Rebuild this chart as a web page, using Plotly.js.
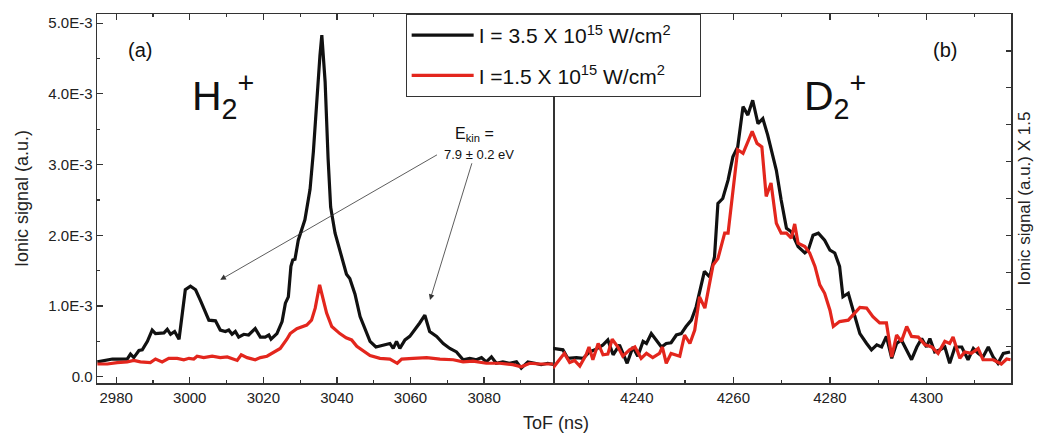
<!DOCTYPE html>
<html>
<head>
<meta charset="utf-8">
<script src="https://cdn.plot.ly/plotly-3.0.1.min.js"></script>
<style>html,body{margin:0;padding:0;background:#fff;}#chart{width:1038px;height:436px;}</style>
</head>
<body>
<div id="chart"></div>
<script>
// ---- Data (ToF in ns, signal in units of 1E-3 a.u.) ----
const h2TofBlack = [2974.9,2977,2979,2983,2983.9,2984.8,2986.2,2987.1,2988.5,2989.8,2990.7,2993.0,2993.9,2994.8,2995.9,2997.1,2998.8,3000.2,3001.6,3002.9,3004.3,3005.2,3007.0,3008.3,3009.7,3010.6,3011.5,3012.4,3013.3,3014.7,3016.0,3017.8,3019.2,3020.5,3021.5,3022.1,3023.7,3025.1,3026.0,3026.8,3027.5,3028.0,3028.6,3029.5,3031.3,3032.7,3033.6,3034.5,3035.4,3035.9,3036.8,3037.6,3038.3,3039.5,3041.3,3042.6,3043.5,3044.9,3046.3,3047.6,3049.0,3050.6,3052.6,3054.4,3055.3,3056.2,3057.1,3058.5,3059.8,3061.2,3062.5,3063.9,3065.2,3067.1,3068.9,3070.7,3072.5,3074.3,3076.1,3077.9,3079.3,3080.6,3082.0,3083.3,3085.1,3086.9,3088.8,3090.1,3091.9,3093.8,3095.5,3097.3,3099.1];
const h2SigBlack = [0.21,0.23,0.25,0.25,0.32,0.27,0.37,0.38,0.50,0.66,0.61,0.62,0.67,0.60,0.64,0.53,1.23,1.28,1.23,1.08,0.90,0.80,0.79,0.66,0.64,0.66,0.60,0.64,0.56,0.60,0.59,0.68,0.56,0.56,0.59,0.53,0.61,0.78,1.04,1.13,1.56,1.65,1.66,1.93,2.22,2.65,3.18,3.92,4.55,4.83,4.17,3.09,2.40,2.03,1.68,1.45,1.39,1.17,0.85,0.67,0.50,0.42,0.45,0.47,0.40,0.50,0.40,0.52,0.57,0.66,0.76,0.87,0.64,0.57,0.47,0.40,0.35,0.24,0.26,0.24,0.27,0.21,0.28,0.19,0.21,0.19,0.21,0.12,0.21,0.19,0.17,0.19,0.17];

const h2TofRed = [2974.9,2977.6,2980.3,2983,2984.8,2986.6,2989.3,2990.7,2992.5,2994.3,2996.6,2998.4,2999.8,3001.1,3002.0,3003.8,3006.1,3008.3,3010.2,3011.5,3012.9,3014.0,3015.6,3017.8,3019.2,3021.0,3022.8,3024.6,3026.4,3027.3,3029.1,3031.8,3033.1,3034.1,3035.3,3036.3,3037.2,3038.6,3040.8,3042.5,3044.0,3045.4,3046.7,3049.0,3051.7,3054.4,3056.4,3057.6,3060.7,3064.4,3068.0,3071.6,3074.3,3077.0,3080.6,3084.2,3087.8,3090.1,3092.4,3095.1,3099.1];
const h2SigRed = [0.18,0.18,0.20,0.21,0.23,0.21,0.20,0.25,0.21,0.26,0.26,0.24,0.26,0.25,0.29,0.27,0.29,0.27,0.28,0.25,0.23,0.31,0.27,0.24,0.27,0.29,0.35,0.40,0.53,0.61,0.68,0.73,0.80,0.97,1.30,1.08,0.90,0.71,0.61,0.55,0.52,0.43,0.38,0.30,0.26,0.25,0.19,0.25,0.26,0.27,0.25,0.24,0.21,0.22,0.19,0.19,0.17,0.14,0.19,0.18,0.18];

const d2TofBlack = [4222.6,4224.7,4225.7,4227.5,4228.9,4230.2,4231.6,4233.0,4234.0,4235.1,4236.4,4238.0,4239.2,4240.2,4241.3,4242.0,4243.0,4244.0,4245.1,4246.1,4247.1,4248.2,4249.2,4250.2,4251.3,4252.3,4253.3,4254.0,4255.1,4256.1,4256.8,4257.8,4258.9,4259.9,4260.9,4262.0,4263.0,4264.0,4265.1,4266.1,4267.1,4268.2,4268.9,4269.9,4271.0,4272.0,4273.4,4274.8,4275.5,4276.5,4277.6,4278.9,4280.0,4281.0,4282.0,4282.7,4283.8,4284.8,4286.2,4287.6,4288.6,4289.7,4290.7,4291.7,4292.8,4293.8,4294.8,4296.9,4298.0,4299.0,4300.0,4300.7,4301.7,4302.8,4303.8,4304.8,4305.9,4307.3,4308.6,4309.7,4310.7,4311.7,4312.8,4313.8,4314.8,4315.9,4317.3];
const d2SigBlack = [0.40,0.38,0.26,0.27,0.26,0.35,0.39,0.45,0.52,0.31,0.45,0.19,0.42,0.29,0.50,0.47,0.61,0.52,0.42,0.47,0.48,0.59,0.61,0.71,0.80,0.99,1.27,1.49,1.41,1.70,2.45,2.52,2.78,3.11,3.25,3.82,3.70,3.91,3.58,3.65,3.42,3.14,2.92,2.50,2.10,2.05,1.84,1.75,1.79,2.00,2.03,1.93,1.79,1.75,1.56,1.13,1.18,0.94,0.61,0.47,0.38,0.45,0.42,0.57,0.26,0.47,0.52,0.24,0.42,0.54,0.42,0.54,0.35,0.38,0.42,0.19,0.42,0.42,0.24,0.40,0.33,0.28,0.42,0.28,0.19,0.33,0.35];

const d2TofRed = [4222.6,4223.7,4225.0,4226.1,4227.1,4228.2,4229.5,4230.1,4230.9,4232.0,4233.0,4234.0,4234.9,4236.1,4237.1,4238.5,4239.6,4240.9,4242.0,4243.3,4244.7,4245.3,4246.1,4247.1,4248.9,4249.9,4251.0,4252.0,4253.0,4254.1,4255.8,4256.8,4258.2,4258.9,4259.9,4260.9,4262.0,4263.0,4263.9,4264.9,4265.9,4266.8,4267.8,4268.9,4269.9,4271.0,4272.0,4272.7,4273.4,4274.8,4275.8,4276.9,4277.9,4278.9,4280.0,4280.7,4282.0,4283.8,4285.2,4286.2,4287.6,4288.9,4290.3,4291.7,4292.8,4293.8,4294.8,4295.9,4296.9,4298.3,4299.7,4301.1,4302.4,4303.8,4304.8,4305.5,4306.9,4307.9,4309.3,4310.7,4311.7,4313.8,4315.5,4316.6,4317.4];
const d2SigRed = [0.12,0.21,0.33,0.20,0.23,0.15,0.31,0.42,0.24,0.47,0.31,0.32,0.53,0.42,0.29,0.38,0.42,0.26,0.33,0.27,0.33,0.42,0.19,0.33,0.29,0.59,0.47,0.66,1.13,0.97,1.58,1.67,2.03,2.03,2.59,3.21,3.16,3.32,3.47,3.30,3.25,2.55,2.74,2.17,2.03,2.03,1.96,2.16,1.89,1.84,1.75,1.56,1.30,1.18,0.94,0.71,0.78,0.80,0.90,0.98,0.97,0.85,0.76,0.76,0.28,0.59,0.50,0.71,0.57,0.56,0.45,0.42,0.33,0.50,0.47,0.56,0.26,0.35,0.33,0.40,0.24,0.24,0.18,0.25,0.24];

const seriesNames = ['I = 3.5 X 10<sup>15</sup> W/cm<sup>2</sup>', 'I =1.5 X 10<sup>15</sup> W/cm<sup>2</sup>'];
const h2Ticks = [2980, 3000, 3020, 3040, 3060, 3080];
const d2Ticks = [4240, 4260, 4280, 4300];
const yTickVals = [0, 1, 2, 3, 4, 5];
const yTickText = ['0.0', '1.0E-3', '2.0E-3', '3.0E-3', '4.0E-3', '5.0E-3'];
const SCALE = 1e-3;

// ---- Styling ----
const FONT = 'Liberation Sans, Arial, Helvetica, sans-serif';
const BLACK = '#111111';
const RED = '#e3261d';
const AX = '#333333';
const PAD = '\u00a0\u00a0\u00a0\u00a0';
const sc = a => a.map(v => v * SCALE);

const traces = [
  {x: h2TofBlack, y: sc(h2SigBlack), xaxis: 'x', yaxis: 'y', mode: 'lines', name: seriesNames[0] + PAD, legendgroup: 'a',
   line: {color: BLACK, width: 3.2}},
  {x: h2TofRed, y: sc(h2SigRed), xaxis: 'x', yaxis: 'y', mode: 'lines', name: seriesNames[1] + PAD, legendgroup: 'b',
   line: {color: RED, width: 3.2}},
  {x: d2TofBlack, y: sc(d2SigBlack), xaxis: 'x2', yaxis: 'y', mode: 'lines', name: seriesNames[0], legendgroup: 'a', showlegend: false,
   line: {color: BLACK, width: 3.2}},
  {x: d2TofRed, y: sc(d2SigRed), xaxis: 'x2', yaxis: 'y', mode: 'lines', name: seriesNames[1], legendgroup: 'b', showlegend: false,
   line: {color: RED, width: 3.2}},
  {x: [], y: [], xaxis: 'x2', yaxis: 'y2', mode: 'lines', showlegend: false, hoverinfo: 'skip'}
];

const xCommon = {
  ticks: 'inside', ticklen: 6, tickwidth: 1.2, tickcolor: AX,
  showline: true, linecolor: AX, linewidth: 1.5, mirror: 'ticks',
  showgrid: false, zeroline: false, anchor: 'y',
  tickfont: {size: 15, color: '#222'}
};

const layout = {
  width: 1038, height: 436,
  margin: {l: 97, r: 27, t: 14, b: 53},
  paper_bgcolor: '#fff', plot_bgcolor: '#fff',
  font: {family: FONT, size: 15, color: '#222'},
  showlegend: true,
  legend: {x: 0.3377, y: 1, xanchor: 'left', yanchor: 'top', bgcolor: '#fff',
           bordercolor: AX, borderwidth: 1, font: {size: 21, color: '#111'},
           itemwidth: 62, traceorder: 'grouped', tracegroupgap: 10},
  xaxis: Object.assign({}, xCommon, {domain: [0, 0.4992], range: [2974.8, 3098.8],
    tickmode: 'array', tickvals: h2Ticks,
    minor: {tickmode: 'linear', tick0: 2970, dtick: 10, ticks: 'inside', ticklen: 3, tickcolor: AX}}),
  xaxis2: Object.assign({}, xCommon, {domain: [0.4992, 1], range: [4222.7, 4317.5],
    tickmode: 'array', tickvals: d2Ticks,
    minor: {tickmode: 'linear', tick0: 4220, dtick: 10, ticks: 'inside', ticklen: 3, tickcolor: AX}}),
  yaxis: {domain: [0, 1], range: [-0.089e-3, 5.13e-3], anchor: 'x',
    tickmode: 'array', tickvals: sc(yTickVals), ticktext: yTickText,
    ticks: 'inside', ticklen: 6, tickwidth: 1.2, tickcolor: AX,
    minor: {tickmode: 'linear', tick0: 0, dtick: 0.5e-3, ticks: 'inside', ticklen: 3, tickcolor: AX},
    showline: true, linecolor: AX, linewidth: 1.5, mirror: true,
    showgrid: false, zeroline: false, tickfont: {size: 15, color: '#222'},
    title: {text: 'Ionic signal (a.u.)', font: {size: 18, color: '#222'}, standoff: 15}},
  yaxis2: {overlaying: 'y', anchor: 'x2', side: 'right', range: [0, 10],
    tickmode: 'linear', tick0: 0, dtick: 1, ticks: 'inside', ticklen: 5, tickwidth: 1.2, tickcolor: AX,
    showticklabels: false, showline: true, linecolor: AX, linewidth: 1.5,
    showgrid: false, zeroline: false,
    title: {text: 'Ionic signal (a.u.) X 1.5', font: {size: 17, color: '#222'}, standoff: 6}},
  annotations: [
    {text: '(a)', x: 2986.5, y: 4.62e-3, xref: 'x', yref: 'y', showarrow: false, font: {size: 20, color: '#111'}},
    {text: '(b)', x: 4303.9, y: 4.62e-3, xref: 'x2', yref: 'y', showarrow: false, font: {size: 20, color: '#111'}},
    {text: 'H<sub>2</sub><sup>+</sup>', x: 3009.0, y: 3.97e-3, xref: 'x', yref: 'y', showarrow: false, font: {size: 41, color: '#111'}},
    {text: 'D<sub>2</sub><sup>+</sup>', x: 4281.0, y: 3.97e-3, xref: 'x2', yref: 'y', showarrow: false, font: {size: 41, color: '#111'}},
    {text: 'E<sub>kin</sub> =', x: 3077.5, y: 3.42e-3, xref: 'x', yref: 'y', showarrow: false, font: {size: 16, color: '#111'}},
    {text: '7.9 ± 0.2 eV', x: 3078.5, y: 3.14e-3, xref: 'x', yref: 'y', showarrow: false, font: {size: 13, color: '#111'}},
    {text: '', x: 3008.3, y: 1.37e-3, ax: 3067.6, ay: 3.15e-3, xref: 'x', yref: 'y', axref: 'x', ayref: 'y',
     showarrow: true, arrowhead: 2, arrowsize: 1.4, arrowwidth: 0.8, arrowcolor: '#333'},
    {text: '', x: 3065.3, y: 1.085e-3, ax: 3076.8, ay: 3.04e-3, xref: 'x', yref: 'y', axref: 'x', ayref: 'y',
     showarrow: true, arrowhead: 2, arrowsize: 1.4, arrowwidth: 0.8, arrowcolor: '#333'},
    {text: 'ToF (ns)', x: 0.502, y: -0.108, xref: 'paper', yref: 'paper', xanchor: 'center', yanchor: 'middle',
     showarrow: false, font: {size: 18, color: '#222'}}
  ]
};

Plotly.newPlot('chart', traces, layout, {displayModeBar: false, staticPlot: true});
</script>
</body>
</html>
